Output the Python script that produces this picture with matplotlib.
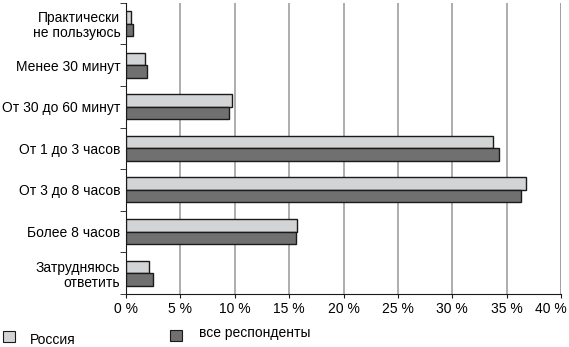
import matplotlib.pyplot as plt
import matplotlib.patches as mpatches
import matplotlib.transforms as mtransforms
import numpy as np

plt.rcParams["font.family"] = ["Liberation Sans", "DejaVu Sans"]

categories = [
    "Практически\nне пользуюсь",
    "Менее 30 минут",
    "От 30 до 60 минут",
    "От 1 до 3 часов",
    "От 3 до 8 часов",
    "Более 8 часов",
    "Затрудняюсь\nответить",
]
russia = [0.5, 1.75, 9.7, 33.75, 36.8, 15.75, 2.1]
all_resp = [0.6, 1.9, 9.5, 34.25, 36.35, 15.6, 2.5]
xticks = [0, 5, 10, 15, 20, 25, 30, 35, 40]
legend_labels = ["Россия", "все респонденты"]

light = "#d3d4d6"
dark = "#707070"
edge = "#1a1a1a"

fig = plt.figure(figsize=(5.69, 3.47), dpi=100)
ax = fig.add_axes([0.2215, 0.153, 0.7645, 0.839])

y = np.arange(len(categories))
h = 0.3
ax.barh(y - h / 2, russia, height=h, color=light, edgecolor=edge, linewidth=1.0, zorder=3)
ax.barh(y + h / 2, all_resp, height=h, color=dark, edgecolor=edge, linewidth=1.0, zorder=3)

ax.set_ylim(len(categories) - 0.5, -0.5)
ax.set_xlim(0, 40)
ax.set_xticks(xticks)
ax.set_xticklabels([f"{t} %" for t in xticks], fontsize=10)
ax.set_yticks(y)
ax.set_yticklabels(categories, fontsize=10, linespacing=1.1)
ax.tick_params(axis="y", length=0, pad=4)
ax.set_yticks(np.arange(len(categories) + 1) - 0.5, minor=True)
ax.tick_params(axis="y", which="minor", length=4, direction="out", color=edge)
ax.tick_params(axis="x", length=3, direction="out", color=edge, pad=3)

# last tick label pulled inside the figure
last = ax.get_xticklabels()[-1]
last.set_horizontalalignment("right")
last.set_transform(last.get_transform() + mtransforms.ScaledTranslation(4 / 72, 0, fig.dpi_scale_trans))

ax.xaxis.grid(True, color="#a0a0a0", linewidth=1.2, zorder=0)
for s in ["top", "right"]:
    ax.spines[s].set_visible(False)
ax.spines["left"].set_color(edge)
ax.spines["bottom"].set_color(edge)
ax.axvline(40, color="#a0a0a0", linewidth=1.4, zorder=0)

# legend, drawn by hand to match the original placement
fig.add_artist(mpatches.Rectangle((0.0058, 0.0144), 0.0206, 0.0326, transform=fig.transFigure,
                                  facecolor=light, edgecolor=edge, linewidth=0.8))
fig.text(0.0527, 0.0086, legend_labels[0], fontsize=10, va="baseline")
fig.add_artist(mpatches.Rectangle((0.2988, 0.0173), 0.0206, 0.0326, transform=fig.transFigure,
                                  facecolor=dark, edgecolor=edge, linewidth=0.8))
fig.text(0.3497, 0.0274, legend_labels[1], fontsize=10, va="baseline")

fig.savefig("out.png", dpi=100)
